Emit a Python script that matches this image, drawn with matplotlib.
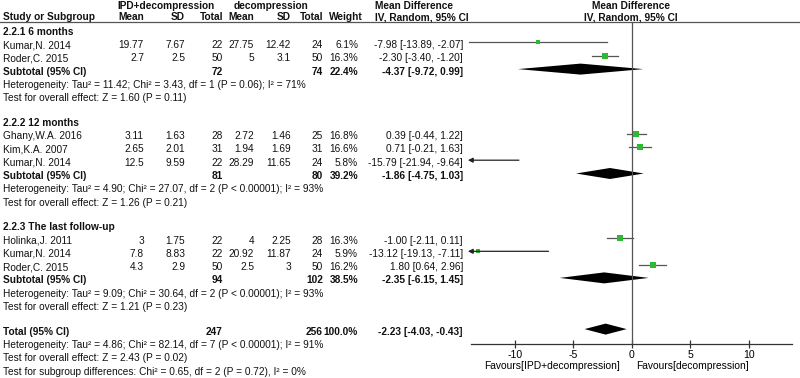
import matplotlib
matplotlib.use('Agg')
import matplotlib.pyplot as plt

plt.rcParams['font.family'] = ['Liberation Sans', 'DejaVu Sans']

# данные исследований
studies = ['Kumar,N. 2014', 'Roder,C. 2015',
           'Ghany,W.A. 2016', 'Kim,K.A. 2007', 'Kumar,N. 2014',
           'Holinka,J. 2011', 'Kumar,N. 2014', 'Roder,C. 2015']
study_group = [0, 0, 1, 1, 1, 2, 2, 2]
exp_mean = [19.77, 2.7, 3.11, 2.65, 12.5, 3, 7.8, 4.3]
exp_sd = [7.67, 2.5, 1.63, 2.01, 9.59, 1.75, 8.83, 2.9]
exp_n = [22, 50, 28, 31, 22, 22, 22, 50]
ctl_mean = [27.75, 5, 2.72, 1.94, 28.29, 4, 20.92, 2.5]
ctl_sd = [12.42, 3.1, 1.46, 1.69, 11.65, 2.25, 11.87, 3]
ctl_n = [24, 50, 25, 31, 24, 28, 24, 50]
weights = [6.1, 16.3, 16.8, 16.6, 5.8, 16.3, 5.9, 16.2]
md = [-7.98, -2.30, 0.39, 0.71, -15.79, -1.00, -13.12, 1.80]
ci_lo = [-13.89, -3.40, -0.44, -0.21, -21.94, -2.11, -19.13, 0.64]
ci_hi = [-2.07, -1.20, 1.22, 1.63, -9.64, 0.11, -7.11, 2.96]

# подгруппы
sub_names = ['2.2.1 6 months', '2.2.2 12 months', '2.2.3 The last follow-up']
sub_exp_n = [72, 81, 94]
sub_ctl_n = [74, 80, 102]
sub_w = [22.4, 39.2, 38.5]
sub_md = [-4.37, -1.86, -2.35]
sub_lo = [-9.72, -4.75, -6.15]
sub_hi = [0.99, 1.03, 1.45]
sub_het = ['Tau² = 11.42; Chi² = 3.43, df = 1 (P = 0.06); I² = 71%',
           'Tau² = 4.90; Chi² = 27.07, df = 2 (P < 0.00001); I² = 93%',
           'Tau² = 9.09; Chi² = 30.64, df = 2 (P < 0.00001); I² = 93%']
sub_z = ['Z = 1.60 (P = 0.11)', 'Z = 1.26 (P = 0.21)', 'Z = 1.21 (P = 0.23)']

# итог
tot_exp_n, tot_ctl_n, tot_w = 247, 256, 100.0
tot_md, tot_lo, tot_hi = -2.23, -4.03, -0.43
tot_het = 'Tau² = 4.86; Chi² = 82.14, df = 7 (P < 0.00001); I² = 91%'
tot_z = 'Z = 2.43 (P = 0.02)'
sub_diff = 'Chi² = 0.65, df = 2 (P = 0.72), I² = 0%'

xticks = [-10, -5, 0, 5, 10]
fav_left = 'Favours[IPD+decompression]'
fav_right = 'Favours[decompression]'

W, H = 800, 378
FS = 7.3
GREEN = '#2fb830'
GREY = '#555555'

fig = plt.figure(figsize=(8, 3.78), dpi=100)
tx = fig.add_axes([0, 0, 1, 1])
tx.set_xlim(0, W)
tx.set_ylim(H, 0)
tx.axis('off')

# лесной график: 0 на 631.7 px, 11.7 px на единицу
x0_px, ppu = 631.7, 11.7
fx_left, axis_y, top_y = 440, 344, 22
fx = fig.add_axes([fx_left / W, (H - axis_y) / H, (W - fx_left) / W, (axis_y - top_y) / H])
fx.set_xlim((fx_left - x0_px) / ppu, (W - x0_px) / ppu)
fx.set_ylim(axis_y, top_y)
fx.patch.set_alpha(0)
for s in ['top', 'left', 'right']:
    fx.spines[s].set_visible(False)
fx.spines['bottom'].set_bounds(-13.7, 13.7)
fx.spines['bottom'].set_color('#333333')
fx.spines['bottom'].set_linewidth(0.9)
fx.set_yticks([])
fx.set_xticks(xticks)
fx.set_xticklabels([str(t) for t in xticks])
fx.tick_params(axis='x', direction='inout', length=6, width=0.9, color='#333333',
               labelsize=FS + 0.3, pad=1)
fx.axvline(0, color=GREY, lw=0.9)
xmin = -14.0

cols = dict(em=144, es=185, en=223, cm=254, cs=291, cn=323, w=358, ci=463)


def txt(x, y, s, bold=False, ha='left'):
    tx.text(x, y, s, fontsize=FS, ha=ha, va='center',
            fontweight='bold' if bold else 'normal', color='#111111')


# заголовки
txt(166, 6, 'IPD+decompression', True, 'center')
txt(271, 6, 'decompression', True, 'center')
txt(375, 6, 'Mean Difference', True)
txt(631, 6, 'Mean Difference', True, 'center')
txt(3, 17, 'Study or Subgroup', True)
for key, lab in [('em', 'Mean'), ('es', 'SD'), ('en', 'Total'), ('cm', 'Mean'),
                 ('cs', 'SD'), ('cn', 'Total')]:
    txt(cols[key], 17, lab, True, 'right')
txt(363, 17, 'Weight', True, 'right')
txt(375, 17, 'IV, Random, 95% CI', True)
txt(631, 17, 'IV, Random, 95% CI', True, 'center')
tx.plot([0, W], [21.8, 21.8], color=GREY, lw=0.9)

step, gap = 13.3, 11.3
y = 31.7


def ci_str(m, lo, hi):
    return f'{m:.2f} [{lo:.2f}, {hi:.2f}]'


def diamond(yy, m, lo, hi):
    h = 5.5
    fx.fill([lo, m, hi, m], [yy, yy - h, yy, yy + h], color='black', lw=0)


for g, name in enumerate(sub_names):
    txt(3, y, name, True)
    y += step
    for i in range(len(studies)):
        if study_group[i] != g:
            continue
        txt(3, y, studies[i])
        txt(cols['em'], y, f'{exp_mean[i]:g}', ha='right')
        txt(cols['es'], y, f'{exp_sd[i]:g}', ha='right')
        txt(cols['en'], y, f'{exp_n[i]}', ha='right')
        txt(cols['cm'], y, f'{ctl_mean[i]:g}', ha='right')
        txt(cols['cs'], y, f'{ctl_sd[i]:g}', ha='right')
        txt(cols['cn'], y, f'{ctl_n[i]}', ha='right')
        txt(cols['w'], y, f'{weights[i]:.1f}%', ha='right')
        txt(cols['ci'], y, ci_str(md[i], ci_lo[i], ci_hi[i]), ha='right')
        my = y - 2.5
        if ci_lo[i] < xmin:
            fx.annotate('', xy=(xmin, my), xytext=(ci_hi[i], my),
                        arrowprops=dict(arrowstyle='-|>', color='#222222', lw=0.9,
                                        mutation_scale=7, shrinkA=0, shrinkB=0))
        else:
            fx.plot([ci_lo[i], ci_hi[i]], [my, my], color=GREY, lw=0.9)
        if md[i] > xmin:
            fx.plot(md[i], my, 's', color=GREEN, mew=0,
                    ms=4.0 * (weights[i] / 16.3) ** 0.5)
        y += step
    txt(3, y, 'Subtotal (95% CI)', True)
    txt(cols['en'], y, f'{sub_exp_n[g]}', True, 'right')
    txt(cols['cn'], y, f'{sub_ctl_n[g]}', True, 'right')
    txt(cols['w'], y, f'{sub_w[g]:.1f}%', True, 'right')
    txt(cols['ci'], y, ci_str(sub_md[g], sub_lo[g], sub_hi[g]), True, 'right')
    diamond(y - 2.5, sub_md[g], sub_lo[g], sub_hi[g])
    y += step
    txt(3, y, 'Heterogeneity: ' + sub_het[g])
    y += step
    txt(3, y, 'Test for overall effect: ' + sub_z[g])
    y += step + gap

txt(3, y, 'Total (95% CI)', True)
txt(cols['en'], y, f'{tot_exp_n}', True, 'right')
txt(cols['cn'], y, f'{tot_ctl_n}', True, 'right')
txt(cols['w'], y, f'{tot_w:.1f}%', True, 'right')
txt(cols['ci'], y, ci_str(tot_md, tot_lo, tot_hi), True, 'right')
diamond(y - 2.5, tot_md, tot_lo, tot_hi)
y += step
txt(3, y, 'Heterogeneity: ' + tot_het)
y += step
txt(3, y, 'Test for overall effect: ' + tot_z)
y += step
txt(3, y, 'Test for subgroup differences: ' + sub_diff)

fx.text(-1.0, 366, fav_left, fontsize=FS + 0.1, ha='right', va='center')
fx.text(0.4, 366, fav_right, fontsize=FS + 0.1, ha='left', va='center')

fig.savefig('out.png', dpi=100)
